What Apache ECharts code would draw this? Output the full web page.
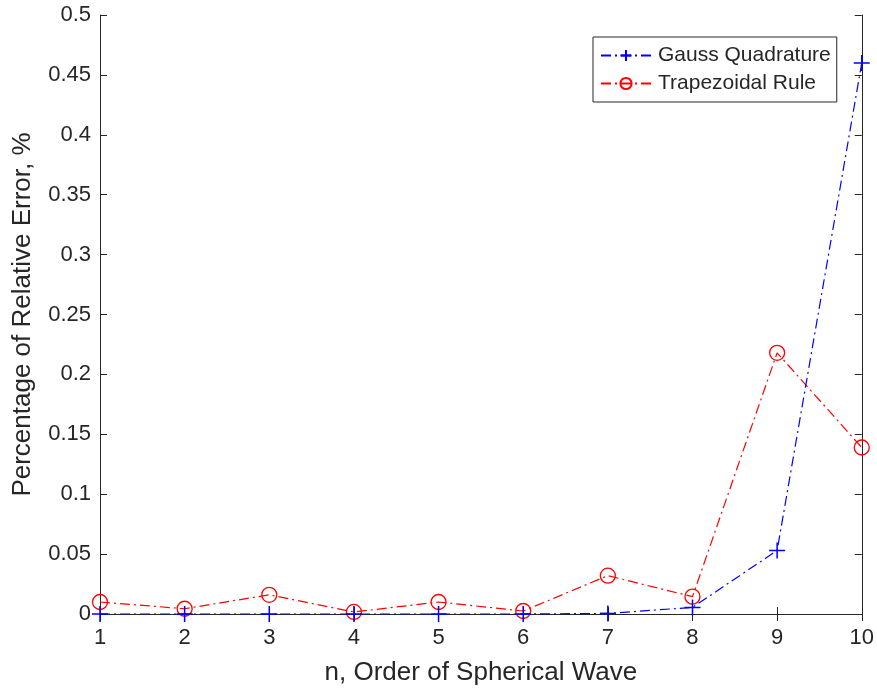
<!DOCTYPE html>
<html>
<head>
<meta charset="utf-8">
<script src="https://cdn.jsdelivr.net/npm/echarts@6/dist/echarts.min.js"></script>
<style>
  html, body { margin: 0; padding: 0; background: #fff; }
  #chart { width: 877px; height: 693px; }
</style>
</head>
<body>
<div id="chart"></div>
<script>
  var orders = [1, 2, 3, 4, 5, 6, 7, 8, 9, 10];
  var gaussErr = [0, 0, 0, 0, 0, 0, 0.0005, 0.0055, 0.053, 0.46];
  var trapErr = [0.010, 0.0044, 0.016, 0.0017, 0.010, 0.0025, 0.032, 0.0145, 0.218, 0.139];
  var seriesNames = ['Gauss Quadrature', 'Trapezoidal Rule'];

  var axisColor = '#262626';
  var fontFam = 'Liberation Sans, Arial, sans-serif';
  var plusPath = 'path://M0,5L10,5M5,0L5,10';
  var dashDot = [10, 4, 2, 4];

  function pairs(ys) {
    return orders.map(function (x, i) { return [x, ys[i]]; });
  }

  var myChart = echarts.init(document.getElementById('chart'));
  var frameAxis = {
    axisLine: { show: true, lineStyle: { color: axisColor, width: 1 } },
    axisTick: { show: true, inside: true, length: 7, lineStyle: { color: axisColor } },
    splitLine: { show: false }
  };
  var option = {
    backgroundColor: '#fff',
    animation: false,
    grid: { left: 100, right: 15, top: 15, bottom: 79 },
    legend: {
      left: 593, top: 37,
      orient: 'vertical',
      itemWidth: 50, itemHeight: 14, itemGap: 7,
      padding: [8, 6, 8, 7],
      backgroundColor: '#fff',
      borderColor: axisColor, borderWidth: 1, borderRadius: 0,
      textStyle: { fontFamily: fontFam, fontSize: 21, color: axisColor, padding: [0, 0, 0, 2] },
      data: seriesNames
    },
    xAxis: [Object.assign({
      type: 'value', min: 1, max: 10, interval: 1,
      name: 'n, Order of Spherical Wave',
      nameLocation: 'middle', nameGap: 46,
      nameTextStyle: { fontFamily: fontFam, fontSize: 26, color: axisColor },
      axisLabel: { margin: 13, fontFamily: fontFam, fontSize: 22, color: axisColor }
    }, frameAxis), Object.assign({
      type: 'value', min: 1, max: 10, interval: 1, position: 'top',
      axisLabel: { show: false }
    }, frameAxis)],
    yAxis: [Object.assign({
      type: 'value', min: 0, max: 0.5, interval: 0.05,
      name: 'Percentage of Relative Error, %',
      nameLocation: 'middle', nameGap: 64,
      nameTextStyle: { fontFamily: fontFam, fontSize: 26, color: axisColor },
      axisLabel: { margin: 9, fontFamily: fontFam, fontSize: 22, color: axisColor }
    }, frameAxis), Object.assign({
      type: 'value', min: 0, max: 0.5, interval: 0.05, position: 'right',
      axisLabel: { show: false }
    }, frameAxis)],
    series: [{
      name: seriesNames[0],
      type: 'line',
      data: pairs(gaussErr),
      symbol: plusPath, symbolSize: 16,
      itemStyle: { color: 'rgba(0,0,0,0)', borderColor: '#0000ff', borderWidth: 1.5 },
      lineStyle: { color: '#0000ff', width: 1.2, type: dashDot },
      z: 3
    }, {
      name: seriesNames[1],
      type: 'line',
      data: pairs(trapErr),
      symbol: 'circle', symbolSize: 15,
      itemStyle: { color: 'rgba(0,0,0,0)', borderColor: '#ff0000', borderWidth: 1.3 },
      lineStyle: { color: '#ff0000', width: 1.2, type: dashDot },
      z: 2
    }]
  };
  myChart.setOption(option);
</script>
</body>
</html>
